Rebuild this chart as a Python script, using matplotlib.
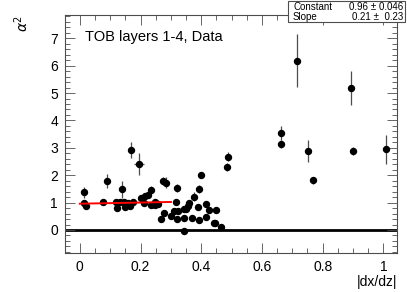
import numpy as np
import matplotlib.pyplot as plt
from matplotlib.patches import Rectangle
from matplotlib.ticker import MultipleLocator

plt.rcParams['font.family'] = ['Liberation Sans', 'DejaVu Sans']

# |dx/dz| bins and measured alpha^2
dxdz = [0.014, 0.014, 0.020, 0.075, 0.091, 0.119, 0.121, 0.132, 0.139, 0.146,
        0.150, 0.159, 0.165, 0.168, 0.176, 0.195, 0.202, 0.211, 0.216, 0.226,
        0.233, 0.233, 0.247, 0.247, 0.256, 0.267, 0.275, 0.277, 0.283, 0.299,
        0.310, 0.316, 0.321, 0.321, 0.322, 0.342, 0.343, 0.343, 0.351, 0.355,
        0.359, 0.371, 0.377, 0.388, 0.391, 0.393, 0.399, 0.415, 0.415, 0.426,
        0.442, 0.445, 0.448, 0.466, 0.485, 0.487, 0.664, 0.664, 0.714, 0.752,
        0.769, 0.895, 0.901, 1.010]
alpha2 = [1.38, 1.00, 0.89, 1.03, 1.80, 1.01, 0.81, 1.01, 1.48, 1.02,
          0.83, 1.00, 0.88, 2.92, 1.03, 2.40, 1.16, 0.97, 1.25, 1.27,
          1.46, 0.91, 1.03, 0.91, 0.94, 0.39, 1.79, 0.61, 1.73, 0.50,
          0.69, 1.01, 1.52, 0.39, 0.69, 0.43, -0.02, 0.75, 0.75, 0.88,
          0.97, 0.45, 1.22, 0.84, 1.50, 0.36, 2.02, 0.94, 0.49, 0.73,
          0.27, 0.24, 0.74, 0.10, 2.31, 2.68, 3.53, 3.14, 6.18, 2.89,
          1.82, 5.17, 2.87, 2.94]
alpha2_err = [0.20, 0.10, 0.08, 0.06, 0.25, 0.08, 0.08, 0.06, 0.30, 0.06,
              0.08, 0.08, 0.10, 0.30, 0.06, 0.40, 0.08, 0.06, 0.08, 0.08,
              0.15, 0.06, 0.06, 0.06, 0.06, 0.10, 0.15, 0.10, 0.20, 0.08,
              0.08, 0.10, 0.15, 0.08, 0.08, 0.08, 0.08, 0.08, 0.08, 0.08,
              0.08, 0.08, 0.15, 0.08, 0.15, 0.08, 0.08, 0.10, 0.08, 0.08,
              0.08, 0.08, 0.08, 0.10, 0.15, 0.15, 0.25, 0.15, 0.97, 0.40,
              0.13, 0.62, 0.15, 0.52]
dxdz_err = [0.0] * 15 + [0.015] + [0.0] * 48

# linear fit shown in the stat box
fit_const = 0.96
fit_slope = 0.21
fit_range = [0.0, 0.3]
stat_names = ["Constant", "Slope"]
stat_values = ["0.96 \u00b1 0.046", "0.21 \u00b1  0.23"]

fig = plt.figure(figsize=(4.07, 2.92), dpi=100)
ax = fig.add_axes([65 / 407, 39 / 292, 332 / 407, 238 / 292])

ax.axhline(0, color='black', lw=2, zorder=1)
ax.errorbar(dxdz, alpha2, yerr=alpha2_err, xerr=dxdz_err, fmt='o', color='black',
            ms=4.3, ecolor='0.3', elinewidth=0.9, capsize=0, zorder=3)

xf = np.array(fit_range)
ax.plot(xf, fit_const + fit_slope * xf, color='red', lw=1.4, zorder=4)

ax.set_xlim(-0.049, 1.045)
ax.set_ylim(-0.84, 7.85)

ax.xaxis.set_major_locator(MultipleLocator(0.2))
ax.xaxis.set_minor_locator(MultipleLocator(0.05))
ax.yaxis.set_major_locator(MultipleLocator(1))
ax.yaxis.set_minor_locator(MultipleLocator(0.2))
ax.set_xticks([0, 0.2, 0.4, 0.6, 0.8, 1.0])
ax.set_xticklabels(['0', '0.2', '0.4', '0.6', '0.8', '1'])
ax.tick_params(which='both', direction='in', top=True, right=True,
               labelsize=10, width=0.6, color='0.3')
ax.tick_params(which='major', length=7, pad=5)
ax.tick_params(which='minor', length=3.5)
for s in ax.spines.values():
    s.set_linewidth(0.8)
    s.set_color('0.3')

ax.set_xlabel('|dx/dz|', fontsize=10, loc='right', labelpad=1)
ax.set_ylabel(r'$\alpha^2$', fontsize=10, loc='top', labelpad=14)

ax.text(0.016, 7.05, 'TOB layers 1-4, Data', fontsize=10.5, va='center')

# stat box
box = Rectangle((288 / 407, 270 / 292), 117 / 407, 21 / 292, transform=fig.transFigure,
                facecolor='white', edgecolor='0.3', lw=0.8, zorder=10)
fig.patches.append(box)
for i in range(2):
    yy = (285 - i * 10) / 292
    fig.text(293 / 407, yy, stat_names[i], fontsize=7, va='center', zorder=11)
    fig.text(403 / 407, yy, stat_values[i], fontsize=7, va='center', ha='right', zorder=11)

fig.savefig('out.png', dpi=100)
